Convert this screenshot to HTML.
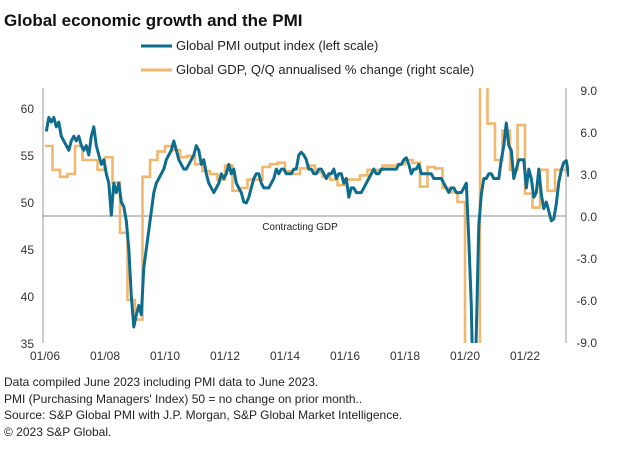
<!DOCTYPE html>
<html><head><meta charset="utf-8">
<style>
html,body{margin:0;padding:0;background:#fff;width:626px;height:450px;overflow:hidden;font-family:"Liberation Sans",Arial,sans-serif;}
#wrap{position:relative;width:626px;height:450px;overflow:hidden;}
svg{display:block;}
text{font-family:"Liberation Sans",Arial,sans-serif;}
</style></head>
<body>
<div id="wrap">
<svg id="chart" width="626" height="450">
<text x="4" y="26" font-size="17" font-weight="bold" fill="#111">Global economic growth and the PMI</text>
<g>
<line x1="141" y1="46" x2="172" y2="46" stroke="#0e6d8c" stroke-width="3"/>
<text x="176" y="50" font-size="13" fill="#222">Global PMI output index (left scale)</text>
<line x1="141" y1="70" x2="172" y2="70" stroke="#f2b76e" stroke-width="3"/>
<text x="176" y="74" font-size="13" fill="#222">Global GDP, Q/Q annualised % change (right scale)</text>
</g>
<g id="axes"></g>
<g id="series"></g>
<g font-size="12" fill="#222">
<text x="4" y="386">Data compiled June 2023 including PMI data to June 2023.</text>
<text x="4" y="403">PMI (Purchasing Managers' Index) 50 = no change on prior month..</text>
<text x="4" y="419">Source: S&amp;P Global PMI with J.P. Morgan, S&amp;P Global Market Intelligence.</text>
<text x="4" y="436">© 2023 S&amp;P Global.</text>
</g>
</svg>
</div>
<script>
const leftTicks = [35,40,45,50,55,60];
const rightTicks = ["9.0","6.0","3.0","0.0","-3.0","-6.0","-9.0"];
const xTickLabels = ["01/06","01/08","01/10","01/12","01/14","01/16","01/18","01/20","01/22"];
const startYear = 2006;
// monthly PMI Jan 2006 - Jun 2023
const pmiValues = [
57.5,59,58.5,59,58,58.5,57,56.5,56,55.5,56.5,57,
56.5,57,56,55.5,56,55,57,58,56,55,54,54.5,
53,52,48.6,52,51,52,50,49.5,48,45,40,36.7,
38,39,38,43,45,47,49,51,52,52.5,53,53.5,
54.5,55,55.5,56.5,55.5,54.5,54,53.5,53.5,54,54.5,55,
56,55.5,54,54.5,53,52,51.5,51,51.5,52,53,52.5,
53,54,53,53.5,52,51.5,51,50,49.9,50.5,51.5,52.5,
53,53,52,51.5,51.5,51.5,52,52.5,53.5,53,53.5,53.5,
53,53,53,53.5,53.5,55,55.3,55,54.5,53.5,53.5,53,
53,53.5,53.5,53,52.5,53,53,53.5,52.5,53,53,52,
52.5,50.5,51.5,51.5,51,51,51,51.5,52,52.5,53,53.5,
53,53,53.5,53.5,53.5,53.5,53.5,53.5,53.5,54,54,54.5,
54.7,54,53,53.5,53.5,54,53,53,53,53,53,52.5,
52.5,52.5,52.5,52,51.5,51,51.5,51.5,51,51,51,51.5,
52,46,39,26,36,47.5,50.8,52.5,52.5,53,53,52.5,
52.5,52.5,54.5,56,58.4,56,55.5,52.5,53.5,54.5,54.5,54.5,
51.5,53.5,52.5,50.5,51,53.5,50.8,49.3,50,49,48,48.2,
49.8,52.1,53.4,54.2,54.4,52.7];
// quarterly GDP Q1 2006 - Q2 2023
const gdpValues = [
5.0,3.3,2.8,3.0, 5.0,4.0,4.0,3.3, 4.2,2.4,-1.2,-6.0, -7.4,2.8,4.0,4.6,
5.0,4.7,4.2,4.3, 3.7,3.2,3.0,2.6, 3.6,1.8,2.0,2.6, 2.6,3.5,3.7,3.8,
3.2,3.0,3.4,3.6, 3.1,2.8,2.6,2.2, 2.6,2.6,2.9,3.3, 3.3,3.6,3.6,3.7,
4.0,3.8,2.1,3.5, 3.4,2.0,1.7,1.0, -10,-30,40,6.6, 4.0,6.1,3.3,6.5,
1.6,0.6,3.3,1.8, 3.3,3.3];

const NS="http://www.w3.org/2000/svg";
const X0=45, PX_MONTH=2.5, PLOT_L=43, PLOT_R=566, PLOT_T=88, PLOT_B=343;
const xMonth = m => X0 + m*PX_MONTH;
const yLeft = v => PLOT_B - (v-35)*9.4;
const yRight = v => 216 - v*14;
function mk(tag, parent){const e=document.createElementNS(NS,tag);parent.appendChild(e);return e;}
const axes=document.getElementById('axes'), series=document.getElementById('series');

const defs=mk('defs',document.getElementById('chart'));
const cp=mk('clipPath',defs); cp.setAttribute('id','plotclip');
const cr=mk('rect',cp); cr.setAttribute('x',PLOT_L);cr.setAttribute('y',PLOT_T);cr.setAttribute('width',PLOT_R-PLOT_L+3);cr.setAttribute('height',PLOT_B-PLOT_T);

let l=mk('line',axes);


l.setAttribute('x1',PLOT_L);l.setAttribute('x2',PLOT_L);l.setAttribute('y1',PLOT_T);l.setAttribute('y2',PLOT_B);l.setAttribute('stroke','#999');
l=mk('line',axes);


l.setAttribute('x1',PLOT_R);l.setAttribute('x2',PLOT_R);l.setAttribute('y1',PLOT_T);l.setAttribute('y2',PLOT_B);l.setAttribute('stroke','#999');
l=mk('line',axes);


l.setAttribute('x1',PLOT_L);l.setAttribute('x2',PLOT_R);l.setAttribute('y1',yRight(0));l.setAttribute('y2',yRight(0));l.setAttribute('stroke','#888');
let t=mk('text',axes);


t.setAttribute('x',300);t.setAttribute('y',yRight(0)+14);t.setAttribute('text-anchor','middle');t.setAttribute('font-size','10');t.setAttribute('fill','#222');t.textContent='Contracting GDP';

leftTicks.forEach(v=>{const e=mk('text',axes);


e.setAttribute('x',34);e.setAttribute('y',yLeft(v)+5);e.setAttribute('text-anchor','end');e.setAttribute('font-size','12');e.setAttribute('fill','#333');e.textContent=v;});
rightTicks.forEach(s=>{const e=mk('text',axes);


e.setAttribute('x',597);e.setAttribute('y',yRight(parseFloat(s))+5);e.setAttribute('text-anchor','end');e.setAttribute('font-size','12');e.setAttribute('fill','#333');e.textContent=s;});
xTickLabels.forEach((s,i)=>{const e=mk('text',axes);


e.setAttribute('x',xMonth(i*24));e.setAttribute('y',360);e.setAttribute('text-anchor','middle');e.setAttribute('font-size','12');e.setAttribute('fill','#333');e.textContent=s;});

let d='';
gdpValues.forEach((v,q)=>{const y=yRight(Math.max(-20,Math.min(20,v)));const xa=xMonth(q*3),xb=xMonth(q*3+3);d+=(q?'L':'M')+xa+','+y+'L'+xb+','+y;});
let p=mk('path',series);


p.setAttribute('d',d);p.setAttribute('fill','none');p.setAttribute('stroke','#f2b76e');p.setAttribute('stroke-width','2.6');p.setAttribute('clip-path','url(#plotclip)');

d='';
pmiValues.forEach((v,m)=>{d+=(m?'L':'M')+xMonth(m+0.5).toFixed(1)+','+yLeft(Math.max(25,v)).toFixed(1);});
p=mk('path',series);


p.setAttribute('d',d);p.setAttribute('fill','none');p.setAttribute('stroke','#0e6d8c');p.setAttribute('stroke-width','3');p.setAttribute('stroke-linejoin','round');p.setAttribute('clip-path','url(#plotclip)');
</script>
</body></html>
